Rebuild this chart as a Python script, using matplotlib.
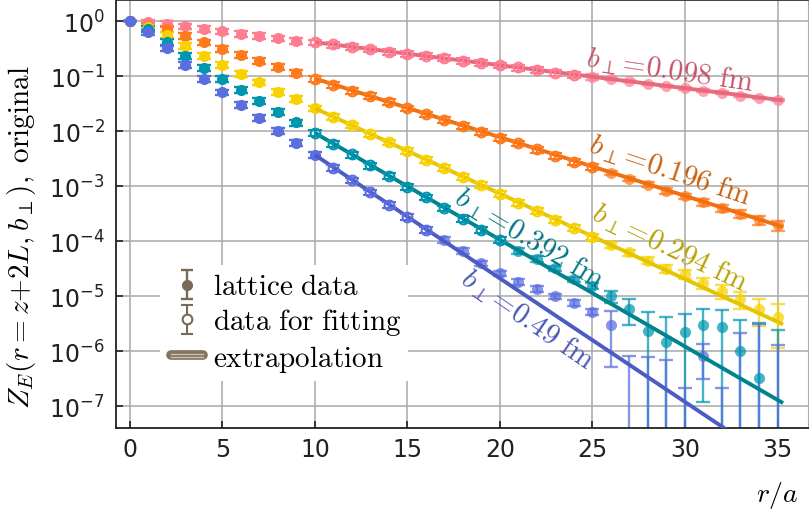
import numpy as np
import matplotlib
matplotlib.use("Agg")
import matplotlib.pyplot as plt
from matplotlib.lines import Line2D
from matplotlib.legend_handler import HandlerBase

# ---------------- data ----------------
r = list(range(0, 36))

labels = ["0.098", "0.196", "0.294", "0.392", "0.49"]

z_0098 = [1.0, 0.955, 0.912, 0.813, 0.724, 0.661, 0.596, 0.537, 0.490, 0.447,
          0.417, 0.380, 0.347, 0.309, 0.282, 0.257, 0.234, 0.214, 0.191, 0.174,
          0.158, 0.145, 0.132, 0.117, 0.107, 0.0977, 0.0891, 0.0813, 0.0724, 0.0661,
          0.0603, 0.0550, 0.0501, 0.0447, 0.0407, 0.0372]
z_0196 = [1.0, 0.832, 0.724, 0.537, 0.417, 0.316, 0.245, 0.191, 0.148, 0.115,
          0.0912, 0.0708, 0.0550, 0.0437, 0.0339, 0.0263, 0.0204, 0.0162, 0.0126, 0.00977,
          0.00759, 0.00603, 0.00468, 0.00363, 0.00282, 0.00224, 0.00174, 0.00138, 0.00107, 8.32e-4,
          6.61e-4, 5.13e-4, 3.98e-4, 3.16e-4, 2.45e-4, 1.95e-4]
z_0294 = [1.0, 0.776, 0.562, 0.363, 0.237, 0.162, 0.110, 0.0776, 0.0525, 0.0389,
          0.0263, 0.0182, 0.0129, 0.00891, 0.00631, 0.00437, 0.00302, 0.00214, 0.00148, 0.00105,
          7.24e-4, 5.01e-4, 3.55e-4, 2.45e-4, 1.74e-4, 1.20e-4, 8.71e-5, 6.31e-5, 4.47e-5, 3.16e-5,
          2.57e-5, 1.78e-5, 1.26e-5, 8.91e-6, 5.89e-6, 4.17e-6]
z_0392 = [1.0, 0.724, 0.427, 0.237, 0.141, 0.0891, 0.0575, 0.0363, 0.0224, 0.0145,
          0.00933, 0.00589, 0.00380, 0.00240, 0.00155, 9.77e-4, 6.31e-4, 3.98e-4, 2.57e-4, 1.62e-4,
          1.05e-4, 6.76e-5, 4.79e-5, 3.24e-5, 2.04e-5, 1.55e-5, 1.0e-5, 5.89e-6, 2.34e-6, 1.48e-6,
          2.29e-6, 3.02e-6, 2.82e-6, 1.0e-6, 3.24e-7, -2.0e-7]
z_049 = [1.0, 0.631, 0.324, 0.162, 0.0891, 0.0513, 0.0302, 0.0178, 0.0102, 0.00617,
         0.00372, 0.00219, 0.00129, 7.76e-4, 4.57e-4, 2.75e-4, 1.62e-4, 1.07e-4, 6.76e-5, 3.98e-5,
         2.63e-5, 1.86e-5, 1.38e-5, 1.0e-5, 7.59e-6, 5.25e-6, 3.02e-6, -3.0e-7, -3.0e-7, -2.0e-7,
         -8.0e-7, 8.4e-7, -8.0e-7, -5.0e-7, -3.0e-7, -5.0e-7]

# relative size of the small error bars on the clean points
rel_err_clean = 0.12
# absolute errors on the noisy tail points (r = 26 ... 35)
tail_r = list(range(26, 36))
err_tail_0098 = [0.004, 0.004, 0.004, 0.003, 0.003, 0.003, 0.003, 0.003, 0.002, 0.002]
err_tail_0196 = [1.5e-4, 1.3e-4, 1.1e-4, 1.0e-4, 8.0e-5, 7.0e-5, 6.0e-5, 5.0e-5, 4.5e-5, 4.0e-5]
err_tail_0294 = [1.0e-5, 8.0e-6, 6.5e-6, 5.5e-6, 5.0e-6, 4.0e-6, 3.5e-6, 3.0e-6, 3.0e-6, 3.0e-6]
err_tail_0392 = [2.5e-6, 2.9e-6, 2.8e-6, 2.7e-6, 2.5e-6, 2.9e-6, 2.9e-6, 2.7e-6, 2.9e-6, 2.7e-6]
err_tail_049 = [2.5e-6, 1.13e-6, 1.1e-6, 9.0e-7, 1.02e-6, 5.2e-7, 1.02e-6, 2.7e-6, 3.5e-6, 1.8e-6]

# fitting windows (open circles)
fit_lo = [10, 10, 11, 10, 11]
fit_hi = [24, 25, 25, 20, 16]

# extrapolation lines: (r, Z) end points
line_r = [10, 35.3]
line_0098 = [0.417, 0.0365]
line_0196 = [0.0912, 1.83e-4]
line_0294 = [0.0263, 3.1e-6]
line_0392 = [0.00933, 1.15e-7]
line_049 = [0.00372, 7.8e-9]

# ---------------- styling ----------------
mk_colors = ["#ff7d90", "#ff7a1c", "#f8d200", "#0096b0", "#5a6ee0"]
ln_colors = ["#e8687e", "#f07010", "#e6c400", "#00828f", "#4c5cc4"]
tx_colors = ["#c65468", "#c8600c", "#b8a200", "#007684", "#4a56b4"]

series = [z_0098, z_0196, z_0294, z_0392, z_049]
tails = [err_tail_0098, err_tail_0196, err_tail_0294, err_tail_0392, err_tail_049]
lines = [line_0098, line_0196, line_0294, line_0392, line_049]

fig = plt.figure(figsize=(8.09, 5.10), dpi=100)
ax = fig.add_axes([0.143, 0.1594, 0.8558, 0.8386])
ax.set_yscale("log")
ax.set_xlim(-0.77, 36.65)
ax.set_ylim(4.1e-8, 2.44)

ms = 8.0
ew = 1.7
for k, z in enumerate(series):
    z = np.array(z, dtype=float)
    rr = np.array(r, dtype=float)
    err = np.abs(z) * rel_err_clean
    err[0] = 0.0
    for j, tr in enumerate(tail_r):
        err[tr] = tails[k][j]
    is_fit = (rr >= fit_lo[k]) & (rr <= fit_hi[k])
    early = (~is_fit) & (rr < fit_lo[k])
    late = (~is_fit) & (rr > fit_hi[k])
    c = mk_colors[k]
    ax.errorbar(rr[early], z[early], yerr=err[early], fmt="o", ms=ms, color=c,
                mec="none", elinewidth=ew, capsize=5, capthick=ew, zorder=2)
    ax.errorbar(rr[late], z[late], yerr=err[late], fmt="o", ms=ms, color=c,
                mec="none", elinewidth=ew, capsize=5, capthick=ew, alpha=0.72, zorder=2)
    ax.errorbar(rr[is_fit], z[is_fit], yerr=err[is_fit], fmt="o", ms=ms - 1.0,
                color=c, mfc="none", mec=c, mew=1.5, elinewidth=1.5,
                capsize=5, capthick=1.5, zorder=4)
    ax.plot(line_r, lines[k], color=ln_colors[k], lw=2.8, zorder=3,
            solid_capstyle="butt")

# annotations along the lines
ann_x = [29.2, 29.2, 29.2, 21.6, 21.5]
ann_y = [0.13, 2.0e-3, 8.0e-5, 1.15e-4, 4.0e-6]
ann_rot = [-8.5, -18.5, -25.5, -31.0, -34.5]
for k in range(5):
    ax.text(ann_x[k], ann_y[k], r"$b_\perp\!=\!%s\ \mathrm{fm}$" % labels[k],
            color=tx_colors[k], fontsize=21, rotation=ann_rot[k],
            rotation_mode="anchor", ha="center", va="center",
            math_fontfamily="cm", zorder=6)

# axes styling
ax.set_xticks(range(0, 36, 5))
ax.set_yticks([10.0 ** (-i) for i in range(0, 8)])
ax.yaxis.set_minor_locator(matplotlib.ticker.NullLocator())
ax.grid(True, color="#ababab", lw=1.15, zorder=0)
ax.set_axisbelow(True)
ax.tick_params(direction="in", length=5, width=1.2, labelsize=17, pad=8,
               colors="#222222")
ax.tick_params(axis="x", pad=7)
for s in ["left", "bottom"]:
    ax.spines[s].set_linewidth(1.3)
    ax.spines[s].set_color("#222222")
ax.spines["top"].set_color("#333333")
ax.spines["top"].set_linewidth(1.3)
ax.spines["right"].set_color("#aaaaaa")

ax.set_ylabel(r"$Z_E(r = z{+}2L, b_\perp),\ \mathrm{original}$", fontsize=21,
              math_fontfamily="cm")
ax.yaxis.set_label_coords(-0.112, 0.448)
ax.set_xlabel(r"$r/a$", fontsize=20, math_fontfamily="cm")
ax.xaxis.set_label_coords(0.955, -0.12)


# legend
class BandHandler(HandlerBase):
    def create_artists(self, legend, orig_handle, xdescent, ydescent,
                       width, height, fontsize, trans):
        y = height / 2.0 - ydescent
        x0, x1 = -xdescent + 3, width - xdescent - 3
        arts = [Line2D([x0, x1], [y, y], lw=7, color="#857560",
                       solid_capstyle="round", transform=trans)]
        for dy in (-1.3, 1.3):
            arts.append(Line2D([x0, x1], [y + dy, y + dy], lw=0.9,
                               color="#cfc4b2", transform=trans))
        return arts


lc = "#7a6a55"
h1 = ax.errorbar([np.nan], [np.nan], yerr=[1], fmt="o", ms=ms, color=lc, mec="none",
                 elinewidth=ew, capsize=4, capthick=ew)
h2 = ax.errorbar([np.nan], [np.nan], yerr=[1], fmt="o", ms=ms - 1.0, color=lc,
                 mfc="white", mec=lc, mew=1.5, elinewidth=1.5, capsize=4, capthick=1.5)
h3 = Line2D([], [], color="#857560", lw=7)
leg = ax.legend([h1, h2, h3], [r"$\mathrm{lattice\ data}$",
                                r"$\mathrm{data\ for\ fitting}$",
                                r"$\mathrm{extrapolation}$"],
                handler_map={Line2D: BandHandler()},
                loc="upper left", bbox_to_anchor=(0.043, 0.415), fontsize=21,
                frameon=True, framealpha=1, facecolor="white", edgecolor="none",
                handlelength=1.35, handleheight=0.55, handletextpad=0.2,
                labelspacing=0.2, borderpad=0.25, fancybox=False)
for t in leg.get_texts():
    t.set_math_fontfamily("cm")

fig.savefig("out.png", dpi=100)
